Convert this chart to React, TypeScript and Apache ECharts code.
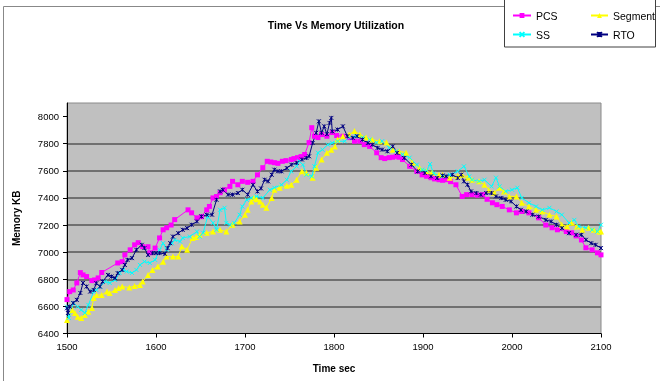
import React, { useEffect, useRef } from "react";
import * as echarts from "echarts";

const xTicks = [1500, 1600, 1700, 1800, 1900, 2000, 2100];
const yTicks = [6400, 6600, 6800, 7000, 7200, 7400, 7600, 7800, 8000];

const pcs: number[][] = [
  [1500, 6650], [1503, 6709], [1507, 6721], [1511, 6773], [1515, 6849], [1518, 6832], [1522, 6820], [1528, 6790],
  [1531, 6795], [1535, 6810], [1539, 6850], [1557, 6920], [1562, 6930], [1565, 6980], [1571, 7017], [1576, 7054],
  [1580, 7070], [1585, 7040], [1591, 7040], [1593, 6995], [1599, 7030], [1604, 7105], [1608, 7165], [1612, 7180],
  [1617, 7200], [1621, 7240], [1636, 7312], [1640, 7290], [1646, 7253], [1651, 7262], [1657, 7312], [1660, 7337],
  [1664, 7400], [1668, 7410], [1672, 7438], [1677, 7460], [1683, 7485], [1686, 7522], [1692, 7497], [1697, 7522],
  [1703, 7515], [1709, 7522], [1714, 7570], [1720, 7623], [1725, 7670], [1729, 7665], [1733, 7660], [1737, 7655],
  [1742, 7670], [1746, 7675], [1752, 7683], [1755, 7690], [1759, 7697], [1763, 7705], [1767, 7720], [1772, 7808],
  [1775, 7918], [1778, 7855], [1782, 7845], [1786, 7867], [1792, 7855], [1798, 7882], [1803, 7860], [1810, 7855],
  [1817, 7845], [1823, 7818], [1829, 7818], [1834, 7793], [1840, 7780], [1848, 7733], [1853, 7697], [1857, 7690],
  [1862, 7697], [1866, 7700], [1870, 7707], [1873, 7700], [1877, 7683], [1885, 7633], [1893, 7596], [1899, 7570],
  [1904, 7560], [1909, 7549], [1913, 7540], [1918, 7534], [1922, 7530], [1926, 7534], [1931, 7520], [1937, 7497],
  [1944, 7411], [1949, 7424], [1955, 7424], [1961, 7420], [1967, 7424], [1972, 7390], [1978, 7364], [1983, 7350],
  [1989, 7337], [1997, 7312], [2005, 7290], [2011, 7300], [2019, 7290], [2030, 7253], [2038, 7200], [2045, 7180],
  [2051, 7165], [2061, 7152], [2067, 7143], [2072, 7120], [2078, 7090], [2083, 7032], [2090, 7017], [2096, 6995],
  [2100, 6980],
];

const segment: number[][] = [
  [1500, 6500], [1506, 6573], [1509, 6551], [1512, 6524], [1516, 6514], [1520, 6537], [1524, 6560], [1528, 6588],
  [1530, 6662], [1533, 6684], [1539, 6684], [1545, 6709], [1548, 6699], [1554, 6721], [1558, 6735], [1562, 6746],
  [1570, 6740], [1576, 6750], [1582, 6758], [1585, 6783], [1591, 6832], [1596, 6869], [1602, 6894], [1608, 6930],
  [1612, 6967], [1619, 6967], [1625, 6967], [1629, 7041], [1635, 7017], [1641, 7105], [1645, 7112], [1649, 7128],
  [1657, 7143], [1664, 7152], [1672, 7165], [1679, 7152], [1686, 7202], [1694, 7226], [1700, 7276], [1703, 7312],
  [1707, 7374], [1710, 7400], [1713, 7390], [1717, 7374], [1720, 7350], [1724, 7327], [1730, 7400], [1733, 7460],
  [1739, 7475], [1747, 7490], [1752, 7497], [1758, 7534], [1764, 7596], [1769, 7586], [1776, 7549], [1780, 7623],
  [1786, 7683], [1792, 7733], [1797, 7756], [1801, 7780], [1804, 7830], [1810, 7855], [1817, 7867], [1823, 7893],
  [1829, 7867], [1836, 7845], [1843, 7830], [1851, 7818], [1859, 7808], [1866, 7756], [1873, 7744], [1881, 7733],
  [1888, 7660], [1896, 7623], [1904, 7596], [1910, 7586], [1918, 7571], [1922, 7571], [1930, 7549], [1939, 7559],
  [1944, 7571], [1950, 7549], [1955, 7534], [1963, 7522], [1969, 7497], [1974, 7460], [1980, 7438], [1986, 7475],
  [1991, 7448], [1997, 7411], [2005, 7411], [2011, 7364], [2019, 7337], [2027, 7312], [2034, 7300], [2042, 7276],
  [2050, 7263], [2056, 7202], [2062, 7189], [2067, 7216], [2073, 7189], [2079, 7165], [2086, 7180], [2092, 7165],
  [2098, 7152], [2100, 7152],
];

const ss: number[][] = [
  [1500, 6598], [1502, 6514], [1507, 6625], [1512, 6598], [1516, 6574], [1520, 6551], [1524, 6611], [1530, 6709],
  [1533, 6721], [1537, 6746], [1543, 6783], [1548, 6773], [1554, 6795], [1559, 6847], [1563, 6869], [1567, 6857],
  [1573, 6847], [1578, 6869], [1582, 6906], [1587, 6930], [1593, 6920], [1599, 6943], [1604, 7017], [1608, 7066],
  [1612, 7017], [1618, 7066], [1621, 7091], [1627, 7078], [1630, 7105], [1638, 7115], [1646, 7152], [1649, 7115],
  [1653, 7143], [1658, 7263], [1664, 7216], [1668, 7165], [1672, 7312], [1677, 7327], [1679, 7216], [1683, 7202],
  [1688, 7216], [1694, 7276], [1697, 7337], [1702, 7386], [1707, 7400], [1713, 7411], [1720, 7400], [1728, 7460],
  [1733, 7475], [1741, 7497], [1747, 7534], [1752, 7596], [1758, 7633], [1761, 7670], [1765, 7645], [1769, 7571],
  [1775, 7559], [1778, 7633], [1782, 7733], [1787, 7756], [1793, 7793], [1798, 7805], [1804, 7818], [1812, 7818],
  [1817, 7845], [1825, 7855], [1832, 7845], [1840, 7830], [1848, 7808], [1854, 7818], [1862, 7771], [1870, 7744],
  [1877, 7720], [1885, 7697], [1893, 7645], [1899, 7608], [1904, 7600], [1908, 7650], [1912, 7580], [1922, 7559],
  [1930, 7571], [1939, 7596], [1946, 7633], [1952, 7559], [1955, 7534], [1963, 7522], [1969, 7534], [1977, 7485],
  [1982, 7549], [1986, 7485], [1993, 7448], [2000, 7460], [2006, 7475], [2011, 7400], [2019, 7364], [2027, 7337],
  [2034, 7312], [2042, 7327], [2050, 7300], [2056, 7276], [2064, 7216], [2070, 7238], [2075, 7189], [2083, 7180],
  [2090, 7165], [2096, 7152], [2100, 7202],
];

const rto: number[][] = [
  [1500, 6586], [1501, 6551], [1503, 6598], [1507, 6625], [1511, 6648], [1515, 6699], [1518, 6773], [1522, 6746],
  [1526, 6709], [1530, 6721], [1533, 6771], [1537, 6746], [1540, 6783], [1546, 6832], [1550, 6820], [1554, 6808],
  [1557, 6845], [1562, 6869], [1565, 6906], [1568, 6943], [1573, 6956], [1578, 7017], [1584, 7054], [1587, 7030],
  [1591, 6980], [1596, 6993], [1600, 6993], [1604, 6993], [1610, 6988], [1613, 7030], [1616, 7066], [1619, 7115],
  [1625, 7140], [1630, 7165], [1635, 7177], [1640, 7202], [1646, 7226], [1651, 7263], [1657, 7276], [1663, 7276],
  [1668, 7386], [1672, 7448], [1675, 7460], [1681, 7424], [1686, 7424], [1692, 7436], [1697, 7460], [1703, 7424],
  [1709, 7497], [1714, 7448], [1718, 7470], [1722, 7534], [1726, 7522], [1730, 7571], [1733, 7608], [1737, 7596],
  [1741, 7596], [1747, 7620], [1752, 7645], [1758, 7658], [1764, 7683], [1769, 7695], [1772, 7707], [1776, 7805],
  [1780, 7880], [1783, 7965], [1786, 7880], [1789, 7928], [1792, 7870], [1795, 7953], [1797, 7990], [1798, 7891],
  [1804, 7904], [1810, 7928], [1815, 7855], [1821, 7843], [1826, 7855], [1832, 7830], [1838, 7805], [1843, 7793],
  [1849, 7769], [1854, 7756], [1860, 7744], [1866, 7780], [1871, 7732], [1879, 7695], [1887, 7645], [1894, 7596],
  [1902, 7584], [1909, 7559], [1916, 7547], [1922, 7565], [1926, 7559], [1933, 7571], [1939, 7547], [1943, 7571],
  [1946, 7522], [1950, 7497], [1954, 7448], [1960, 7436], [1965, 7424], [1971, 7436], [1977, 7436], [1982, 7411],
  [1988, 7399], [1993, 7386], [1999, 7374], [2005, 7337], [2010, 7312], [2016, 7300], [2023, 7276], [2030, 7263],
  [2038, 7238], [2044, 7226], [2050, 7202], [2056, 7177], [2064, 7140], [2072, 7128], [2078, 7128], [2083, 7091],
  [2089, 7066], [2094, 7054], [2100, 7030],
];

const FONT = "Liberation Sans";
const X_SYMBOL = "path://M0,0L10,10M10,0L0,10";
const STAR_SYMBOL = "path://M0,0L10,10M10,0L0,10M5,0L5,10";

export default function App() {
  const ref = useRef<HTMLDivElement>(null);
  useEffect(() => {
    if (!ref.current) return;
    const chart = echarts.init(ref.current, null, { renderer: "svg" });
    const lineSeries = (name: string, data: number[][], color: string, symbol: string, size: number, stroke: boolean) => ({
      name,
      type: "line",
      data,
      symbol,
      symbolSize: size,
      showAllSymbol: true,
      lineStyle: { color, width: 1 },
      itemStyle: stroke ? { color, borderColor: color, borderWidth: 1 } : { color, borderWidth: 0 },
      emphasis: { disabled: true },
    });
    const legendBase = {
      orient: "vertical", top: 10, padding: 0, itemHeight: 6, itemGap: 8,
      textStyle: { fontFamily: FONT, fontSize: 10.5, color: "#000" }, z: 5,
    };
    chart.setOption({
      animation: false,
      textStyle: { fontFamily: FONT },
      title: {
        text: "Time Vs Memory Utilization",
        left: 331,
        top: 14,
        textAlign: "center",
        textStyle: { fontFamily: FONT, fontSize: 10.5, fontWeight: "bold", color: "#000" },
      },
      graphic: [
        { type: "rect", z: -10, shape: { x: 3.5, y: 6.5, width: 700, height: 420 }, style: { fill: "none", stroke: "#888", lineWidth: 1 } },
        { type: "rect", z: 1, shape: { x: 504.5, y: -1, width: 151, height: 48 }, style: { fill: "#fff", stroke: "#404040", lineWidth: 1 } },
      ],
      legend: [
        { ...legendBase, data: ["PCS", "SS"], left: 512, itemWidth: 18 },
        { ...legendBase, data: ["Segment", "RTO"], left: 590, itemWidth: 17 },
      ],
      grid: {
        left: 67, right: 59, top: 103, bottom: 47.5, show: true,
        backgroundColor: "#C0C0C0", borderColor: "#8a8a8a", borderWidth: 1,
      },
      xAxis: {
        type: "value", min: 1500, max: 2100, interval: 100,
        name: "Time sec", nameLocation: "middle", nameGap: 30,
        nameTextStyle: { fontFamily: FONT, fontSize: 10, fontWeight: "bold", color: "#000" },
        axisLine: { show: true, lineStyle: { color: "#000", width: 1 } },
        axisTick: { show: true, length: 4, lineStyle: { color: "#000" }, customValues: xTicks },
        axisLabel: { fontFamily: FONT, fontSize: 9.5, color: "#000", margin: 8, customValues: xTicks, formatter: (v: number) => String(v) },
        splitLine: { show: false },
      },
      yAxis: {
        type: "value", min: 6400, max: 8100, interval: 200,
        name: "Memory KB", nameLocation: "middle", nameGap: 46, nameRotate: 90,
        nameTextStyle: { fontFamily: FONT, fontSize: 10, fontWeight: "bold", color: "#000" },
        axisLine: { show: true, lineStyle: { color: "#000", width: 1 } },
        axisTick: { show: true, length: 4, lineStyle: { color: "#000" }, customValues: yTicks },
        axisLabel: { fontFamily: FONT, fontSize: 9.5, color: "#000", margin: 8, customValues: yTicks, formatter: (v: number) => String(v) },
        splitLine: { show: true, showMinLine: false, showMaxLine: false, lineStyle: { color: "#707070", width: 2 } },
      },
      series: [
        lineSeries("PCS", pcs, "#FF00FF", "rect", 5, false),
        lineSeries("Segment", segment, "#FFFF00", "triangle", 6, false),
        lineSeries("SS", ss, "#00FFFF", X_SYMBOL, 4, true),
        lineSeries("RTO", rto, "#000080", STAR_SYMBOL, 4, true),
      ],
    });
    return () => chart.dispose();
  }, []);
  return <div ref={ref} style={{ position: "fixed", left: 0, top: 0, width: 660, height: 381 }} />;
}
